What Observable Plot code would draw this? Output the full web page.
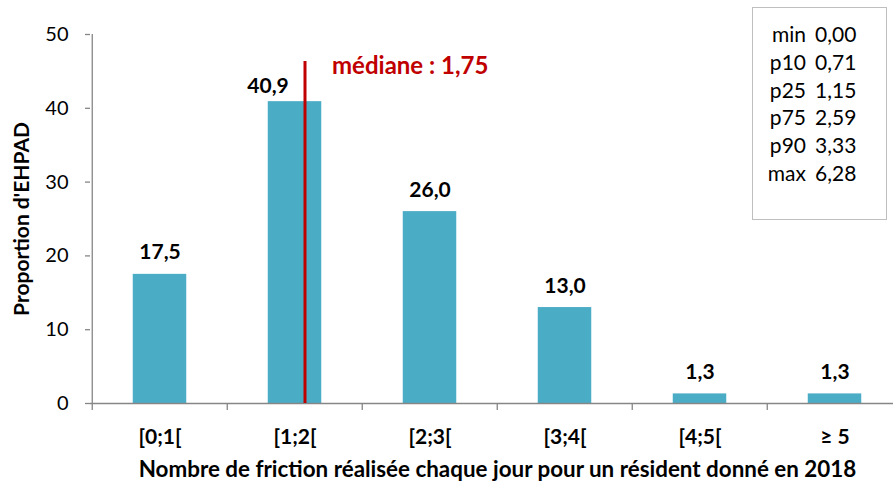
<!DOCTYPE html>
<html><head><meta charset="utf-8">
<script src="https://cdn.jsdelivr.net/npm/d3@7"></script>
<script src="https://cdn.jsdelivr.net/npm/@observablehq/plot@0.6"></script>
<style>
body{margin:0;background:#fff;font-family:Lato,sans-serif}
#wrap{position:relative;width:893px;height:486px;overflow:hidden}
#stats{position:absolute;left:752px;top:7px;width:135px;height:213px;border:1px solid #BFBFBF;box-sizing:border-box;background:#fff;font-size:21px;color:#000;padding-top:12px}
#stats .row{position:relative;height:27.8px;line-height:27.8px}
#stats .lab{position:absolute;right:80px;text-align:right}
#stats .val{position:absolute;left:62px}
</style></head>
<body><div id="wrap"></div>
<script>
const categories = ["[0;1[", "[1;2[", "[2;3[", "[3;4[", "[4;5[", "≥ 5"];
const values = [17.5, 40.9, 26.0, 13.0, 1.3, 1.3];
const yTicks = [0, 10, 20, 30, 40, 50];
const medianValue = 1.75;
const medianCategory = "[1;2[";
const statLabels = ["min", "p10", "p25", "p75", "p90", "max"];
const statValues = [0.00, 0.71, 1.15, 2.59, 3.33, 6.28];
const xTitle = "Nombre de friction réalisée chaque jour pour un résident donné en 2018";
const yTitle = "Proportion d'EHPAD";

const fr = (v, n) => v.toFixed(n).replace(".", ",");
const data = categories.map((c, i) => ({cat: c, value: values[i]}));

const bandW = 135.5;
const axisColor = "#868686";
const plot = Plot.plot({
  width: 893, height: 486,
  marginLeft: 90, marginRight: 0, marginTop: 34, marginBottom: 83,
  style: {fontFamily: "Lato, sans-serif", color: "#000", background: "#fff", overflow: "visible"},
  x: {domain: categories, range: [90, 90 + 6 * bandW], padding: 0, label: null},
  y: {domain: [0, 50], label: null},
  marks: [
    Plot.barY(data, {x: "cat", y: "value", fill: "#4BACC6", insetLeft: 40.75, insetRight: 40.75}),
    Plot.ruleY([0], {stroke: axisColor, strokeWidth: 1.3}),
    Plot.ruleX([categories[0]], {stroke: axisColor, strokeWidth: 1.3, dx: -bandW / 2}),
    Plot.axisX({tickSize: 7, dx: -bandW / 2, tickFormat: () => "", stroke: axisColor, strokeWidth: 1.3, label: null}),
    Plot.text(categories, {x: d => d, frameAnchor: "bottom", lineAnchor: "middle", dy: 34, fontSize: 21, fontWeight: "bold"}),
    Plot.axisY({ticks: yTicks, tickSize: 5, tickPadding: 17, fontSize: 20, stroke: axisColor, strokeWidth: 1.3, label: null}),
    Plot.ruleX([medianCategory], {stroke: "#C00000", strokeWidth: 3, dx: 10, insetTop: 27}),
    Plot.text([medianCategory], {x: d => d, text: () => "médiane : " + fr(medianValue, 2), frameAnchor: "top", lineAnchor: "middle", dy: 32, dx: 37, textAnchor: "start", fill: "#C00000", fontWeight: "bold", fontSize: 24}),
    Plot.text(data.filter(d => d.cat !== medianCategory), {x: "cat", y: "value", text: d => fr(d.value, 1), dy: -15, lineAnchor: "bottom", fontWeight: "bold", fontSize: 21}),
    Plot.text(data.filter(d => d.cat === medianCategory), {x: "cat", y: "value", text: d => fr(d.value, 1), dx: -27, dy: -9, lineAnchor: "bottom", fontWeight: "bold", fontSize: 21}),
    Plot.text([xTitle], {frameAnchor: "bottom", lineAnchor: "middle", dy: 66, dx: 5.5, fontWeight: "bold", fontSize: 22.4}),
    Plot.text([yTitle], {frameAnchor: "left", textAnchor: "middle", rotate: -90, dx: -68, fontWeight: "bold", fontSize: 21})
  ]
});
const wrap = document.getElementById("wrap");
wrap.appendChild(plot);
const box = document.createElement("div");
box.id = "stats";
box.innerHTML = statLabels.map((l, i) => `<div class="row"><span class="lab">${l}</span><span class="val">${fr(statValues[i], 2)}</span></div>`).join("");
wrap.appendChild(box);
</script></body></html>
